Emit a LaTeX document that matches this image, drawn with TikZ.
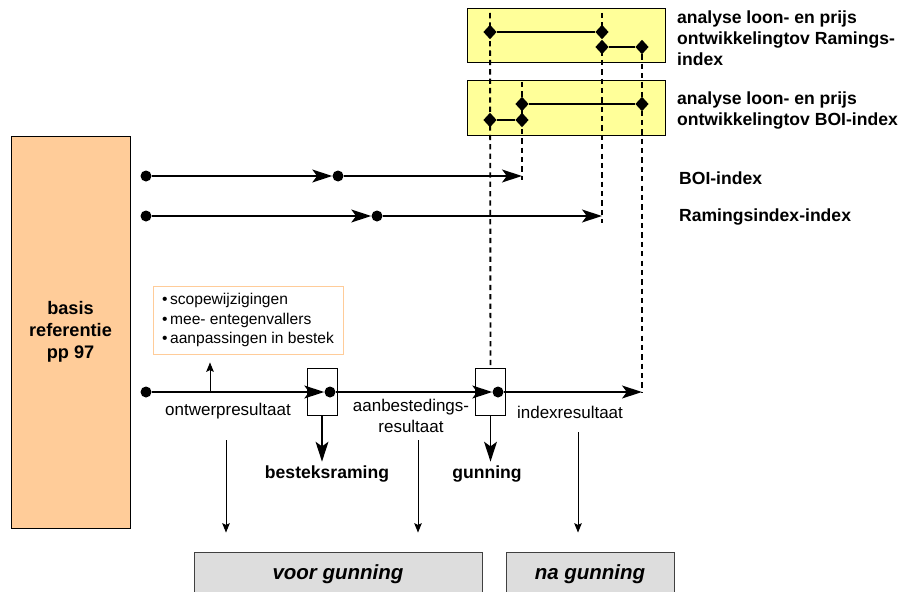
\documentclass[tikz,border=0pt]{standalone}
\usepackage{fontspec}
\setmainfont{Liberation Sans}
\usepackage{xcolor}
\usetikzlibrary{arrows.meta,positioning,shapes.geometric}
\definecolor{basisorange}{HTML}{FFCC99}
\definecolor{analyseyellow}{HTML}{FFFF99}
\definecolor{fasegray}{HTML}{DDDDDD}
\definecolor{scopeline}{HTML}{FFCC99}

\begin{document}
\begin{tikzpicture}[x=0.03cm, y=-0.03cm,
    basis/.style={rectangle, draw, line width=0.8pt, fill=basisorange, minimum width=3.57cm, minimum height=11.76cm, align=center, font=\bfseries\fontsize{15.5}{19}\selectfont},
    analyse/.style={rectangle, draw, line width=0.8pt, fill=analyseyellow, inner sep=0pt, minimum width=5.94cm},
    fase/.style={rectangle, draw=black!75, line width=0.8pt, fill=fasegray, minimum height=1.32cm, font=\bfseries\itshape\fontsize{17.5}{20}\selectfont},
    gate/.style={rectangle, draw, line width=0.8pt, fill=white, inner sep=0pt, minimum width=0.9cm, minimum height=1.41cm},
    dot/.style={circle, fill=black, inner sep=0pt, minimum size=0.33cm},
    ruit/.style={diamond, fill=black, inner sep=0pt, minimum width=0.4cm, minimum height=0.44cm},
    flow/.style={-{Stealth[length=17pt, width=11pt, inset=4pt]}, line width=1.2pt},
    pijl/.style={-{Stealth[length=8pt, width=6.5pt, inset=1.5pt]}, line width=0.8pt},
    dashline/.style={line width=1.6pt, dash pattern=on 4.5pt off 3.5pt},
    link/.style={line width=1.2pt},
    lbl/.style={font=\fontsize{14.5}{18}\selectfont, align=center},
    blbl/.style={font=\bfseries\fontsize{15}{18}\selectfont, align=left},
    bullets/.style={rectangle, draw=scopeline, line width=0.8pt, fill=white, minimum width=5.7cm, minimum height=2.04cm, align=left, font=\fontsize{13.3}{17}\selectfont}
]
    \useasboundingbox (0,0) rectangle (907,591);

    % basis referentie
    \node[basis] (basis) at (70.5,332) {basis\\referentie\\pp 97};

    % analyse boxes
    \node[analyse, minimum height=1.62cm] (anaRam) at (566,35) {};
    \node[analyse, minimum height=1.65cm] (anaBoi) at (566,107.5) {};
    \node[blbl, anchor=west] (txtRam) at (673,38) {analyse loon- en prijs\\ontwikkelingtov Ramings-\\index};
    \node[blbl, anchor=west] (txtBoi) at (673,110.5) {analyse loon- en prijs\\ontwikkelingtov BOI-index};

    % index lines
    \node[dot] (boi0) at (146,176) {};
    \node[dot] (boi1) at (338,176) {};
    \coordinate (boiEnd) at (522,176);
    \draw[flow] (boi0) -- (boi1.west);
    \draw[flow] (boi1) -- (boiEnd);
    \node[blbl, anchor=west] (txtBoiIdx) at (675,178) {BOI-index};

    \node[dot] (ram0) at (146,216) {};
    \node[dot] (ram1) at (377,216) {};
    \coordinate (ramEnd) at (602,216);
    \draw[flow] (ram0) -- (ram1.west);
    \draw[flow] (ram1) -- (ramEnd);
    \node[blbl, anchor=west] (txtRamIdx) at (675,217) {Ramingsindex-index};

    % main line
    \node[gate] (bestGate) at (322,391.5) {};
    \node[gate] (gunGate) at (490.5,391.5) {};
    \node[dot] (m0) at (146,392) {};
    \node[dot] (m1) at (330,392) {};
    \node[dot] (m2) at (498,392) {};
    \coordinate (idxEnd) at (642,392);
    \draw[flow] (m0) -- (m1.west);
    \draw[flow] (m1) -- (m2.west);
    \draw[flow] (m2) -- (idxEnd);

    \node[bullets] (scope) at (248,320) {\textbullet\,scopewijzigingen\\\textbullet\,mee- entegenvallers\\\textbullet\,aanpassingen in bestek};
    \coordinate (scopeFoot) at (210,392);
    \draw[pijl, shorten >=0.24cm] (scopeFoot) -- (scopeFoot |- scope.south);

    \node[lbl] (ontwerp) at (228,411) {ontwerpresultaat};
    \node[lbl] (aanbest) at (411,416) {aanbestedings-\\resultaat};
    \node[lbl] (indexres) at (570,412) {indexresultaat};

    \node[blbl] (besteks) at (327,474) {besteksraming};
    \node[blbl] (gunning) at (487,474) {gunning};
    \draw[flow] (bestGate.south) -- (bestGate.south |- besteks.north);
    \draw[flow] (gunGate.south) -- (gunGate.south |- gunning.north);

    % dashed time lines
    \coordinate (gunTop) at (490,13);
    \coordinate (ramTop) at (602,13);
    \coordinate (ramBot) at (602,223);
    \coordinate (boiTop) at (522,82);
    \coordinate (boiBot) at (522,180);
    \draw[dashline] (gunTop) -- (gunGate.north);
    \draw[dashline] (ramTop) -- (ramBot);
    \draw[dashline] (boiTop) -- (boiBot);
    \draw[dashline] (642,45) -- (idxEnd);

    % diamonds
    \node[ruit] (ra1) at (490,32) {};
    \node[ruit] (ra2) at (602,32) {};
    \node[ruit] (ra3) at (602,47) {};
    \node[ruit] (ra4) at (642,47) {};
    \draw[link] (ra1) -- (ra2);
    \draw[link] (ra3) -- (ra4);
    \node[ruit] (bo1) at (522,104) {};
    \node[ruit] (bo2) at (642,104) {};
    \node[ruit] (bo3) at (490,120) {};
    \node[ruit] (bo4) at (522,120) {};
    \draw[link] (bo1) -- (bo2);
    \draw[link] (bo3) -- (bo4);

    % voor / na gunning
    \node[fase, minimum width=8.64cm] (voor) at (338,574) {voor gunning};
    \node[fase, minimum width=5.04cm] (na) at (590,574) {na gunning};
    \coordinate (v1) at (226,440);
    \coordinate (v2) at (418,440);
    \coordinate (v3) at (578,432);
    \draw[pijl, shorten >=0.57cm] (v1) -- (v1 |- voor.north);
    \draw[pijl, shorten >=0.57cm] (v2) -- (v2 |- voor.north);
    \draw[pijl, shorten >=0.57cm] (v3) -- (v3 |- na.north);
\end{tikzpicture}
\end{document}
